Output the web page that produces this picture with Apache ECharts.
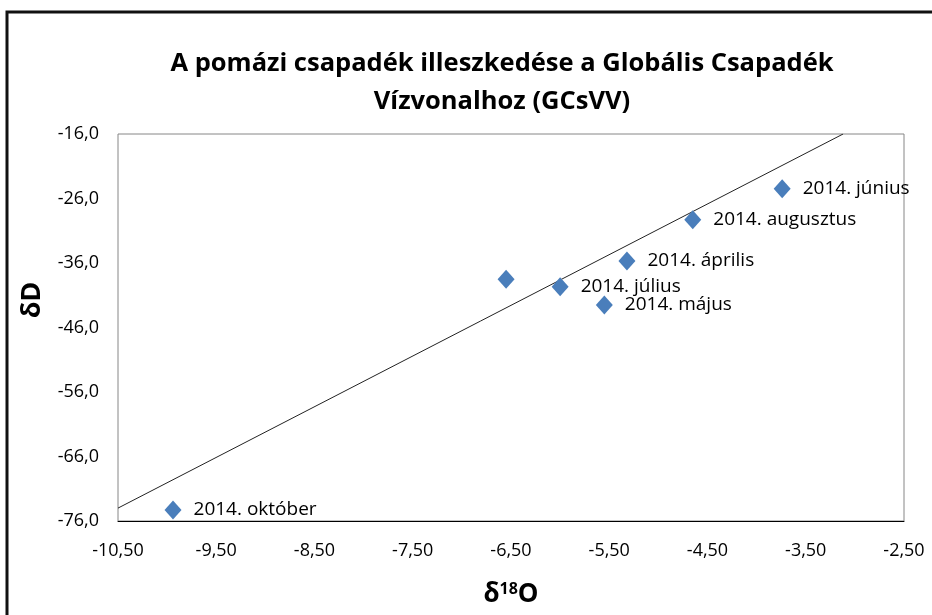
<!DOCTYPE html>
<html>
<head>
<meta charset="utf-8">
<script src="https://cdn.jsdelivr.net/npm/echarts@6/dist/echarts.min.js"></script>
<style>
  html, body { margin: 0; padding: 0; background: #fff; }
  #chart { width: 932px; height: 615px; }
</style>
</head>
<body>
<div id="chart"></div>
<script>
"use strict";
(() => {
    // δ18O and δD of the Pomáz samples
    const sampleNames = ["2014. október", "", "2014. július", "2014. május", "2014. április", "2014. augusztus", "2014. június"];
    const d18O = [-9.94, -6.55, -6.0, -5.55, -5.32, -4.65, -3.74];
    const dD = [-74.3, -38.5, -39.7, -42.5, -35.7, -29.3, -24.5];
    // global meteoric water line end points
    const gmwlX = [-10.5, -3.12];
    const gmwlY = [-74.0, -16.0];

    const fmt = (v, digits) => v.toFixed(digits).replace(".", ",");

    const chart = echarts.init(document.getElementById("chart"));
    const option = {
        animation: false,
        textStyle: { fontFamily: "Open Sans" },
        graphic: [
            {
                type: "rect",
                shape: { x: 7, y: 12, width: 950, height: 640 },
                style: { fill: null, stroke: "#111", lineWidth: 3 }
            },
            {
                type: "text",
                x: 32,
                y: 300,
                rotation: Math.PI / 2,
                style: {
                    text: "δD",
                    fill: "#000",
                    font: "bold 27px 'Open Sans'",
                    align: "center",
                    verticalAlign: "middle"
                }
            }
        ],
        title: {
            text: "A pomázi csapadék illeszkedése a Globális Csapadék\nVízvonalhoz (GCsVV)",
            left: 497,
            top: 40,
            textAlign: "center",
            textStyle: { fontFamily: "Open Sans", fontWeight: "bold", fontSize: 25.5, lineHeight: 38, color: "#000" }
        },
        grid: {
            left: 118, top: 134, width: 786, height: 387,
            outerBoundsMode: "none",
            show: true, borderColor: "#868686", borderWidth: 1, backgroundColor: "#fff"
        },
        xAxis: {
            type: "value",
            min: -10.5, max: -2.5, interval: 1,
            splitLine: { show: false },
            axisTick: { show: false },
            axisLine: { lineStyle: { color: "#000", width: 1 } },
            axisLabel: { formatter: (v) => fmt(v, 2), fontSize: 18, color: "#000", margin: 21 },
            name: "{d|δ}{s|18}{d|O}",
            nameLocation: "middle",
            nameGap: 60,
            nameTextStyle: {
                rich: {
                    d: { fontSize: 26, fontWeight: "bold", color: "#000", fontFamily: "Open Sans" },
                    s: { fontSize: 16, fontWeight: "bold", color: "#000", fontFamily: "Open Sans", verticalAlign: "top", padding: [0, 0, 12, 0] }
                }
            }
        },
        yAxis: {
            type: "value",
            min: -76, max: -16, interval: 10,
            splitLine: { show: false },
            axisTick: { show: false },
            axisLine: { show: false },
            axisLabel: { formatter: (v) => fmt(v, 1), fontSize: 18, color: "#000", margin: 19 }
        },
        series: [
            {
                type: "line",
                data: gmwlX.map((x, i) => [x, gmwlY[i]]),
                symbol: "none",
                lineStyle: { color: "#222", width: 1 },
                z: 1
            },
            {
                type: "scatter",
                data: d18O.map((x, i) => ({ value: [x, dD[i]], name: sampleNames[i] })),
                symbol: "diamond",
                symbolSize: [17, 19],
                itemStyle: { color: "#4a7ebb", opacity: 1 },
                label: {
                    show: true,
                    position: "right",
                    distance: 12,
                    formatter: (p) => p.name,
                    fontSize: 19,
                    color: "#000"
                },
                z: 2
            }
        ]
    };
    chart.setOption(option);
})();
</script>
</body>
</html>
